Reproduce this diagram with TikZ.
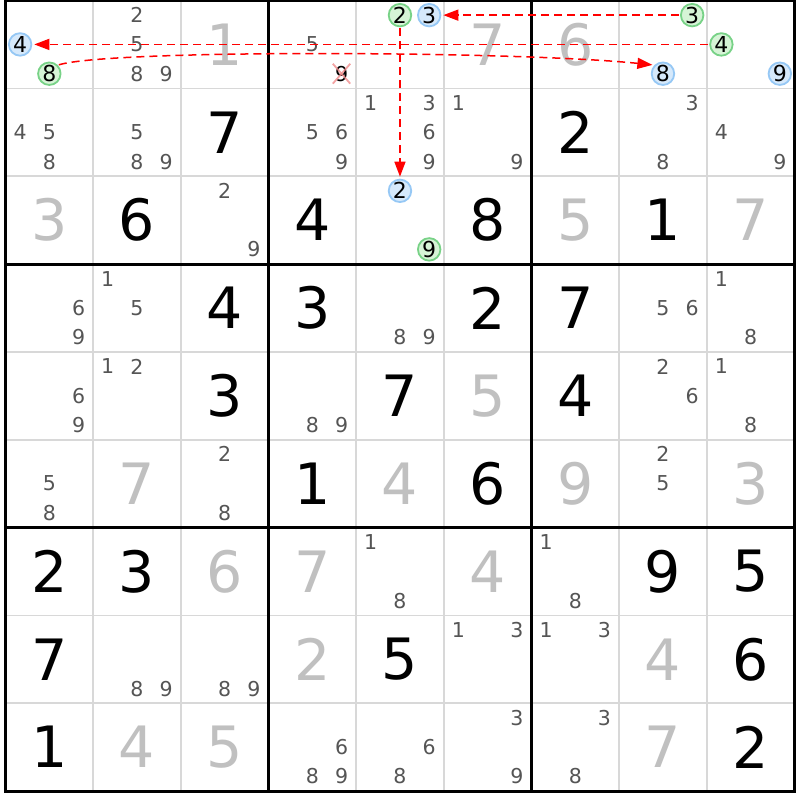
\documentclass[tikz,border=0pt]{standalone}
\usepackage{fontspec}
\setmainfont{DejaVu Sans}
\usetikzlibrary{arrows.meta}

\definecolor{givengray}{RGB}{192,192,192}
\definecolor{candgray}{RGB}{85,85,85}
\definecolor{gridgray}{RGB}{216,216,216}
\definecolor{bluefill}{RGB}{214,233,251}
\definecolor{blueline}{RGB}{150,200,245}
\definecolor{greenfill}{RGB}{214,244,214}
\definecolor{greenline}{RGB}{120,210,135}
\definecolor{crosspink}{RGB}{240,140,140}

\begin{document}
\begin{tikzpicture}[
    x=29.22pt, y=-29.28pt,
    given/.style={inner sep=0pt, text=givengray, font=\fontsize{57}{60}\selectfont},
    placed/.style={inner sep=0pt, text=black, font=\fontsize{57}{60}\selectfont},
    cand/.style={inner sep=0pt, text=candgray, font=\fontsize{20.5}{22}\selectfont},
    bluecand/.style={circle, draw=blueline, fill=bluefill, line width=1.8pt, minimum size=22.5pt, inner sep=0pt, text=black, font=\fontsize{22}{23}\selectfont},
    greencand/.style={bluecand, draw=greenline, fill=greenfill},
    thinline/.style={gridgray, line width=1.6pt},
    thickline/.style={black, line width=3pt},
    crossline/.style={crosspink, line width=1.8pt},
    arrow/.style={-{Triangle[length=15pt, width=11pt]}, red, dash pattern=on 8pt off 5pt, line width=1.5pt, shorten >=2pt, shorten <=1pt}
]
    \fill[white] (-5.5pt,0.5pt) rectangle (794.5pt,-799.5pt);
    \useasboundingbox (-5.5pt,0.5pt) rectangle (794.5pt,-799.5pt);

    % Grid
    \foreach \i in {1,2,4,5,7,8} {
        \draw[thinline] (3*\i,0) -- (3*\i,27);
        \draw[thinline] (0,3*\i) -- (27,3*\i);
    }
    \foreach \i in {3,6} {
        \draw[thickline] (3*\i,0) -- (3*\i,27);
        \draw[thickline] (0,3*\i) -- (27,3*\i);
    }
    \draw[thickline] (0,0) rectangle (27,27);

    % Givens
    \foreach \r/\c/\d in {1/3/1, 1/6/7, 1/7/6, 3/1/3, 3/7/5, 3/9/7, 5/6/5, 6/2/7, 6/5/4, 6/7/9,
                          6/9/3, 7/3/6, 7/4/7, 7/6/4, 8/4/2, 8/8/4, 9/2/4, 9/3/5, 9/8/7}
        \node[given] (cell-\r-\c) at (3*\c-1.5,3*\r-1.5) {\d};

    % Placed digits
    \foreach \r/\c/\d in {2/3/7, 2/7/2, 3/2/6, 3/4/4, 3/6/8, 3/8/1, 4/3/4, 4/4/3, 4/6/2, 4/7/7,
                          5/3/3, 5/5/7, 5/7/4, 6/4/1, 6/6/6, 7/1/2, 7/2/3, 7/8/9, 7/9/5, 8/1/7,
                          8/5/5, 8/9/6, 9/1/1, 9/9/2}
        \node[placed] (cell-\r-\c) at (3*\c-1.5,3*\r-1.5) {\d};

    % Candidates
    \foreach \r/\c/\ds in {1/2/{2,5,8,9}, 1/4/{5}, 2/1/{4,5,8}, 2/2/{5,8,9}, 2/4/{5,6,9},
                           2/5/{1,3,6,9}, 2/6/{1,9}, 2/8/{3,8}, 2/9/{4,9}, 3/3/{2,9},
                           4/1/{6,9}, 4/2/{1,5}, 4/5/{8,9}, 4/8/{5,6}, 4/9/{1,8},
                           5/1/{6,9}, 5/2/{1,2}, 5/4/{8,9}, 5/8/{2,6}, 5/9/{1,8},
                           6/1/{5,8}, 6/3/{2,8}, 6/8/{2,5}, 7/5/{1,8}, 7/7/{1,8},
                           8/2/{8,9}, 8/3/{8,9}, 8/6/{1,3}, 8/7/{1,3},
                           9/4/{6,8,9}, 9/5/{6,8}, 9/6/{3,9}, 9/7/{3,8}}
        \foreach \d in \ds
            \node[cand] (cand-\r-\c-\d) at ({3*(\c-1)+mod(\d-1,3)+0.5},{3*(\r-1)+floor((\d-1)/3)+0.5}) {\d};

    % Eliminated candidate
    \node[cand, text=black, inner sep=2pt] (cand-1-4-9) at (11.5,2.5) {9};
    \draw[crossline, opacity=0.8] (cand-1-4-9.north west) -- (cand-1-4-9.south east);
    \draw[crossline, opacity=0.8] (cand-1-4-9.north east) -- (cand-1-4-9.south west);

    % Marked candidates
    \node[bluecand] (cand-1-1-4) at (0.5,1.5) {4};
    \node[greencand] (cand-1-1-8) at (1.5,2.5) {8};
    \node[greencand] (cand-1-5-2) at (13.5,0.5) {2};
    \node[bluecand] (cand-1-5-3) at (14.5,0.5) {3};
    \node[greencand] (cand-1-8-3) at (23.5,0.5) {3};
    \node[bluecand] (cand-1-8-8) at (22.5,2.5) {8};
    \node[greencand] (cand-1-9-4) at (24.5,1.5) {4};
    \node[bluecand] (cand-1-9-9) at (26.5,2.5) {9};
    \node[bluecand] (cand-3-5-2) at (13.5,6.5) {2};
    \node[greencand] (cand-3-5-9) at (14.5,8.5) {9};

    % Links
    \draw[arrow] (cand-1-5-2) -- (cand-3-5-2);
    \draw[arrow] (cand-1-8-3) -- (cand-1-5-3);
    \draw[arrow] (cand-1-9-4) -- (cand-1-1-4);
    \draw[arrow] (cand-1-1-8.north east) .. controls +(1.8,-0.55) and +(-4.6,-0.48) .. (cand-1-8-8.north west);
\end{tikzpicture}
\end{document}
